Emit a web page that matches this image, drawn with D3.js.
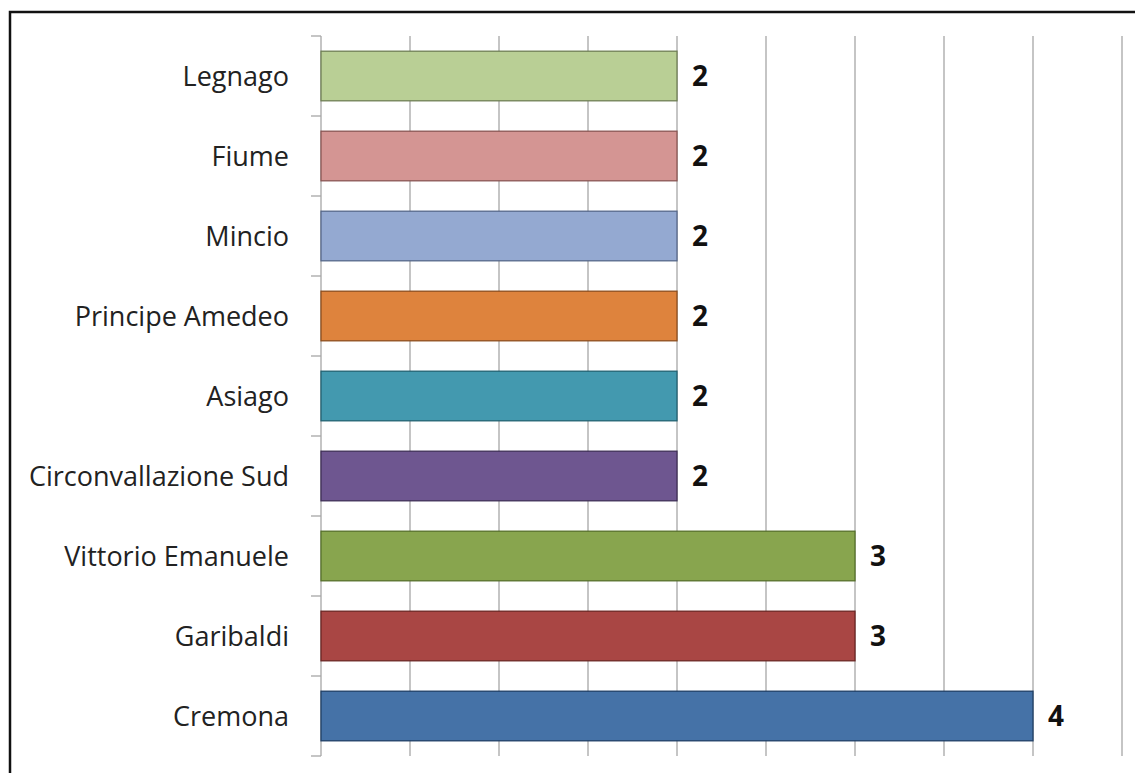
<!DOCTYPE html>
<html><head><meta charset="utf-8">
<script src="https://cdn.jsdelivr.net/npm/d3@7"></script>
<style>body{margin:0;background:#fff}svg{display:block}</style>
</head><body>
<svg id="c" width="1135" height="773"></svg>
<script>
const categories = ["Legnago","Fiume","Mincio","Principe Amedeo","Asiago","Circonvallazione Sud","Vittorio Emanuele","Garibaldi","Cremona"];
const values = [2,2,2,2,2,2,3,3,4];
const colors = ["#B9CF95","#D49593","#94A9D1","#DE833D","#4399AF","#6E5690","#88A54E","#A94644","#4572A7"];
const strokes = ["#6F7F55","#8A5654","#56688A","#8E4E1E","#226272","#3F2F57","#56702A","#6C2624","#1F3F66"];
const xTicks = [0,0.5,1,1.5,2,2.5,3,3.5,4,4.5];

const svg = d3.select("#c");
// frame
svg.append("rect").attr("x",10).attr("y",12).attr("width",1140).attr("height",800)
  .attr("fill","none").attr("stroke","#111").attr("stroke-width",2.5);

const x = d3.scaleLinear().domain([0,4.5]).range([321,1122]);
const y = d3.scaleBand().domain(categories).range([36,756]).paddingInner(0.38).paddingOuter(0.19);

// gridlines
svg.append("g").selectAll("line").data(xTicks.slice(1)).join("line")
  .attr("x1",d=>x(d)).attr("x2",d=>x(d)).attr("y1",36).attr("y2",756)
  .attr("stroke","#A6A6A6").attr("stroke-width",1.3);

// y axis line + ticks at band boundaries
const bounds = d3.range(categories.length+1).map(i=>y.range()[0] + i*(y.range()[1]-y.range()[0])/categories.length);
svg.append("line").attr("x1",x(0)).attr("x2",x(0)).attr("y1",36).attr("y2",756)
  .attr("stroke","#A6A6A6").attr("stroke-width",1.3);
svg.append("g").selectAll("line").data(bounds).join("line")
  .attr("x1",x(0)-10).attr("x2",x(0)).attr("y1",d=>d).attr("y2",d=>d)
  .attr("stroke","#A6A6A6").attr("stroke-width",1.3);

// bars
svg.append("g").selectAll("rect").data(categories).join("rect")
  .attr("x",x(0)).attr("y",d=>y(d))
  .attr("width",(d,i)=>x(values[i])-x(0)).attr("height",y.bandwidth())
  .attr("fill",(d,i)=>colors[i]).attr("stroke",(d,i)=>strokes[i]).attr("stroke-width",1.3);

// category labels
svg.append("g").selectAll("text").data(categories).join("text")
  .attr("x",289).attr("y",d=>y(d)+y.bandwidth()/2).attr("dy","0.36em")
  .attr("text-anchor","end").attr("font-family","'Open Sans', sans-serif")
  .attr("font-size",27).attr("fill","#222").text(d=>d);

// value labels
svg.append("g").selectAll("text").data(categories).join("text")
  .attr("x",(d,i)=>x(values[i])+15).attr("y",d=>y(d)+y.bandwidth()/2).attr("dy","0.37em")
  .attr("font-family","'Open Sans', sans-serif").attr("font-weight","bold")
  .attr("font-size",28).attr("fill","#111").text((d,i)=>values[i]);
</script>
</body></html>
